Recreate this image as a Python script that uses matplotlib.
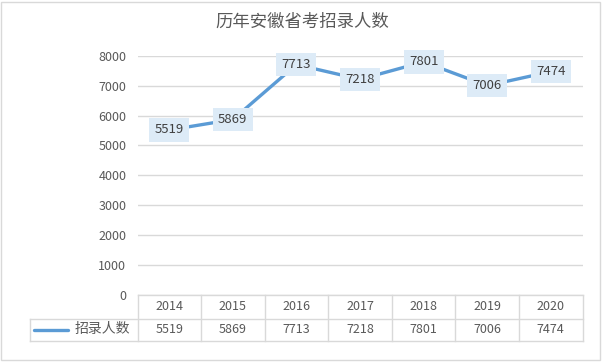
import matplotlib.pyplot as plt
from matplotlib.lines import Line2D
from matplotlib.patches import Rectangle

plt.rcParams['font.family'] = ['Noto Sans CJK SC', 'DejaVu Sans']

years = ["2014", "2015", "2016", "2017", "2018", "2019", "2020"]
hires = [5519, 5869, 7713, 7218, 7801, 7006, 7474]
series_name = "招录人数"
title = "历年安徽省考招录人数"

line_c = "#5B9BD5"
txt_c = "#595959"
grid_c = "#D9D9D9"

fig = plt.figure(figsize=(6.02, 3.62), dpi=100)
W, H = 602, 362

def fx(px):
    return px / W

def fy(py):
    return 1 - py / H

# outer border
fig.patches.append(Rectangle((fx(1), fy(360)), fx(599), 358 / H, transform=fig.transFigure,
                             fill=False, edgecolor="#D9D9D9", lw=1))

left_tab, left_plot, right = 29.5, 137.5, 582.5
top, mid, bot = 294.5, 318.5, 341

ax = fig.add_axes([fx(left_plot), fy(top), fx(right - left_plot), (top - 56) / H])
x = list(range(len(years)))
ax.plot(x, hires, color=line_c, lw=2.4, solid_capstyle="round", zorder=3)
for xi, v in zip(x, hires):
    ax.text(xi, v, str(v), ha="center", va="center", fontsize=9.5, color="#404040", zorder=4,
            bbox=dict(boxstyle="square,pad=0.4", fc="#DDEBF7", ec="none"))

ax.set_xlim(-0.5, len(years) - 0.5)
ax.set_ylim(0, 8000)
ax.set_yticks(range(0, 8001, 1000))
ax.tick_params(axis="y", length=0, labelsize=9, labelcolor=txt_c, pad=8)
ax.set_xticks([])
ax.grid(axis="y", color=grid_c, lw=1)
ax.set_axisbelow(True)
for s in ax.spines.values():
    s.set_visible(False)

fig.text(fx(302), fy(22), title, ha="center", va="center", fontsize=12.5, color=txt_c)

# data table under the axis
col_w = (right - left_plot) / len(years)

def hline(y, x0, x1):
    fig.add_artist(Line2D([fx(x0), fx(x1)], [fy(y), fy(y)], transform=fig.transFigure, color=grid_c, lw=1))

def vline(xp, y0, y1):
    fig.add_artist(Line2D([fx(xp), fx(xp)], [fy(y0), fy(y1)], transform=fig.transFigure, color=grid_c, lw=1))

hline(top, left_plot, right)
hline(mid, left_tab, right)
hline(bot, left_tab, right)
vline(left_tab, mid, bot)
for i in range(len(years) + 1):
    vline(left_plot + i * col_w, top, bot)

for i, (yr, v) in enumerate(zip(years, hires)):
    cx = left_plot + (i + 0.5) * col_w
    fig.text(fx(cx), fy((top + mid) / 2), yr, ha="center", va="center", fontsize=9, color=txt_c)
    fig.text(fx(cx), fy((mid + bot) / 2), str(v), ha="center", va="center", fontsize=9, color=txt_c)

fig.add_artist(Line2D([fx(34), fx(68)], [fy(329.5), fy(329.5)], transform=fig.transFigure,
                      color=line_c, lw=2.4, solid_capstyle="round"))
fig.text(fx(75), fy(329.5), series_name, ha="left", va="center", fontsize=10, color=txt_c)

fig.savefig("out.png", dpi=100)
